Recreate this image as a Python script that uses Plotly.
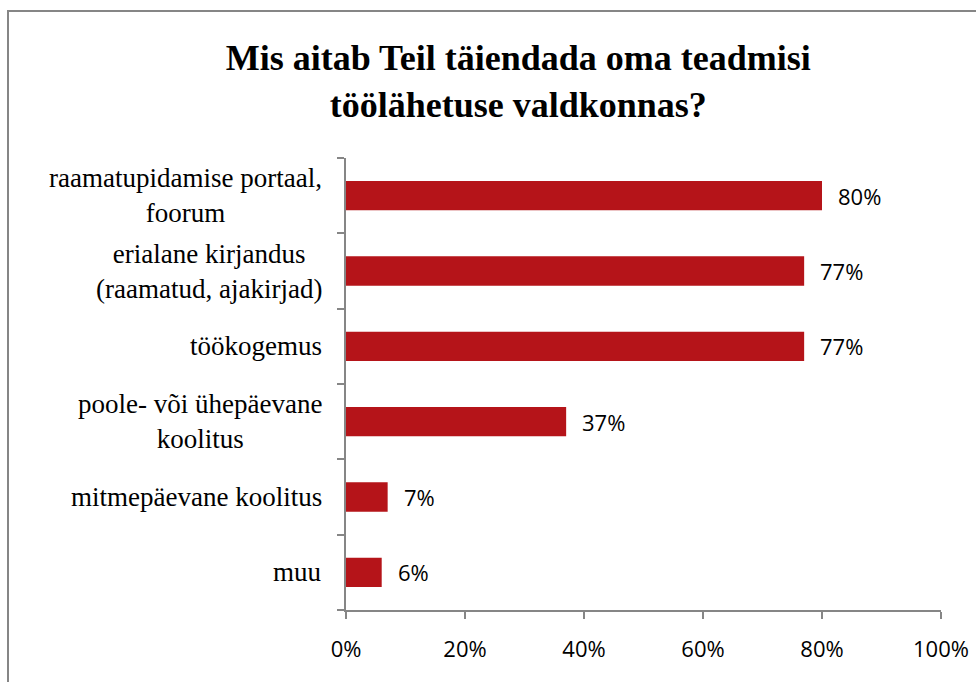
import plotly.graph_objects as go

categories = [
    "raamatupidamise portaal,<br>foorum",
    "erialane kirjandus<br>(raamatud, ajakirjad)",
    "töökogemus",
    "poole- või ühepäevane<br>koolitus",
    "mitmepäevane koolitus",
    "muu",
]
values = [80, 77, 77, 37, 7, 6]
value_labels = ["80%", "77%", "77%", "37%", "7%", "6%"]
x_ticks = [0, 20, 40, 60, 80, 100]
x_tick_labels = ["0%", "20%", "40%", "60%", "80%", "100%"]
title_text = "Mis aitab Teil täiendada oma teadmisi<br>töölähetuse valdkonnas?"

BAR = "#B51419"
AXIS = "#868686"
SERIF = "Liberation Serif, Times New Roman, serif"
SANS = "Open Sans, Calibri, sans-serif"

L, R, T, B = 346, 35, 158, 72
PW, PH = 976 - L - R, 682 - T - B


def px_x(p):
    return (p - L) / PW


def px_y(p):
    return (682 - B - p) / PH


fig = go.Figure()
fig.add_trace(go.Bar(
    x=values, y=categories, orientation="h",
    marker=dict(color=BAR, line=dict(width=0)),
    width=0.39, hoverinfo="skip",
))

annotations = []
for c in categories:
    annotations.append(dict(
        x=0, xref="paper", y=c, yref="y", text=c, showarrow=False,
        xanchor="right", yanchor="middle", align="center", xshift=-22,
        font=dict(family=SERIF, size=27, color="#000000"),
    ))
for c, v, t in zip(categories, values, value_labels):
    annotations.append(dict(
        x=v, xref="x", y=c, yref="y", text=t, showarrow=False,
        xanchor="left", yanchor="middle", xshift=14,
        font=dict(family=SANS, size=22, color="#000000"),
    ))

border = dict(color=AXIS, width=2)
fig.update_layout(
    width=976, height=682,
    margin=dict(l=L, r=R, t=T, b=B, autoexpand=False),
    paper_bgcolor="white", plot_bgcolor="white",
    showlegend=False,
    title=dict(
        text=title_text, x=0.531, xref="container", xanchor="center",
        y=1 - 70 / 682, yref="container", yanchor="middle",
        font=dict(family=SERIF, size=36, color="#000000", weight="bold"),
    ),
    xaxis=dict(
        range=[0, 100], tickvals=x_ticks, ticktext=x_tick_labels,
        showgrid=False, zeroline=False, showline=True, linecolor=AXIS, linewidth=1.5,
        ticks="outside", ticklen=7, tickcolor=AXIS, tickwidth=1.5,
        tickfont=dict(family=SANS, size=22, color="#000000"),
        ticklabelstandoff=12, fixedrange=True, automargin=False,
    ),
    yaxis=dict(
        categoryorder="array", categoryarray=categories[::-1],
        range=[-0.5, len(categories) - 0.5],
        showgrid=False, zeroline=False, showline=True, linecolor=AXIS, linewidth=1.5,
        ticks="outside", ticklen=7, tickcolor=AXIS, tickwidth=1.5,
        tickson="boundaries", showticklabels=False, fixedrange=True, automargin=False,
    ),
    annotations=annotations,
    shapes=[
        dict(type="line", xref="paper", yref="paper",
             x0=px_x(8), x1=px_x(990), y0=px_y(11), y1=px_y(11), line=border),
        dict(type="line", xref="paper", yref="paper",
             x0=px_x(8), x1=px_x(8), y0=px_y(10), y1=px_y(695), line=border),
    ],
)

fig.write_html(
    "out.html",
    config={"displayModeBar": False},
    post_script="document.body.style.margin='0';document.body.style.overflow='hidden';",
)
